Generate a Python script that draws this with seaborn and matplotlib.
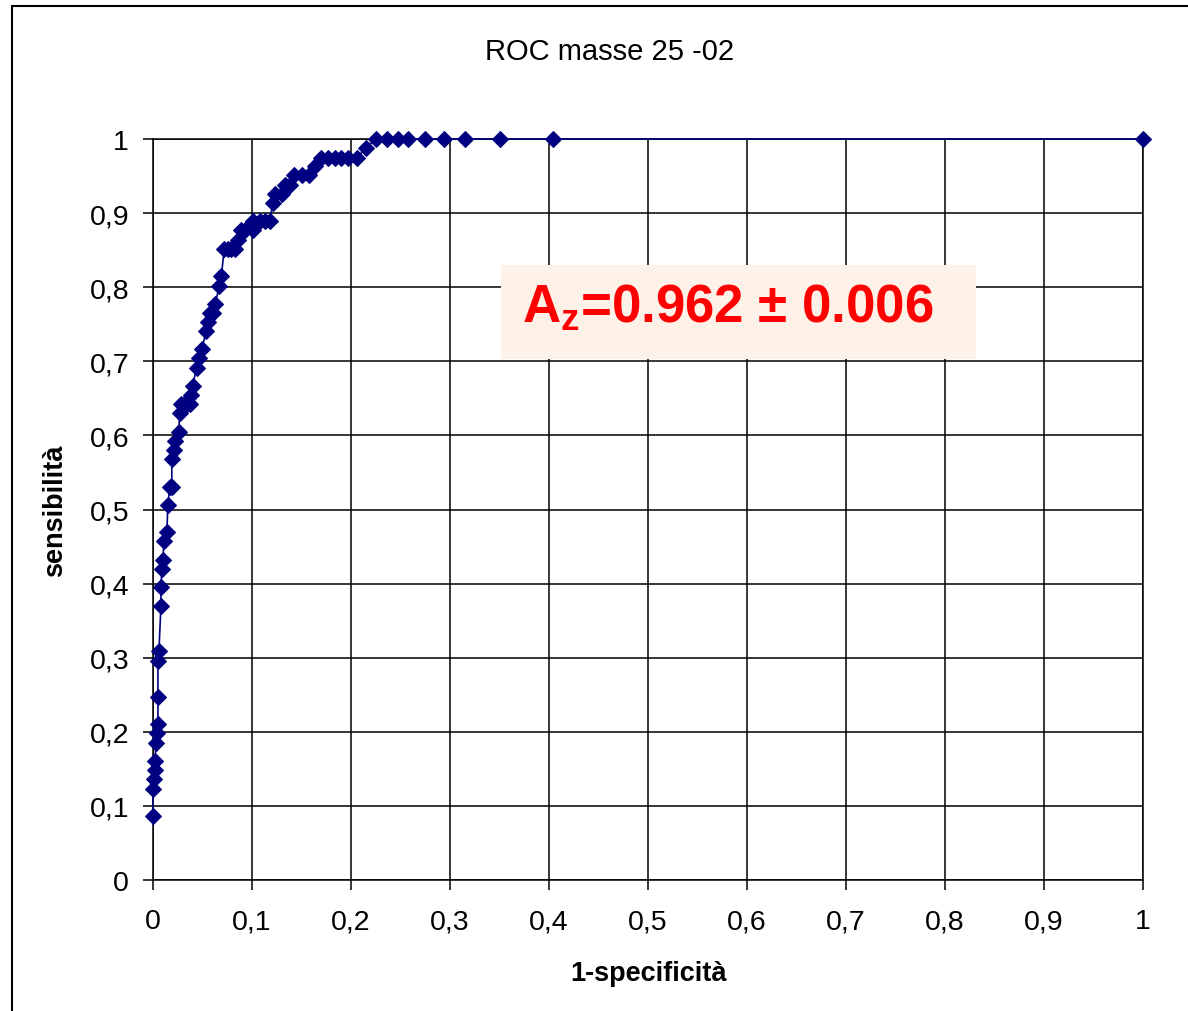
import seaborn as sns
import pandas as pd
import matplotlib.pyplot as plt
import matplotlib
from matplotlib.lines import Line2D
from matplotlib.patches import Rectangle
import numpy as np

# ROC points
fpr = [0.000, 0.000, 0.001, 0.002, 0.002, 0.003, 0.004, 0.005, 0.005, 0.005,
       0.006, 0.008, 0.008, 0.009, 0.010, 0.011, 0.014, 0.015, 0.017, 0.019,
       0.019, 0.021, 0.022, 0.026, 0.027, 0.028, 0.031, 0.034, 0.037, 0.038,
       0.040, 0.044, 0.046, 0.049, 0.054, 0.056, 0.058, 0.061, 0.063, 0.067,
       0.069, 0.072, 0.076, 0.079, 0.083, 0.086, 0.089, 0.093, 0.101, 0.101,
       0.108, 0.113, 0.118, 0.121, 0.123, 0.130, 0.133, 0.138, 0.142, 0.150,
       0.158, 0.164, 0.170, 0.177, 0.184, 0.190, 0.197, 0.206, 0.215, 0.225,
       0.236, 0.247, 0.258, 0.275, 0.294, 0.315, 0.350, 0.404, 1.000]
tpr = [0.086, 0.123, 0.136, 0.148, 0.160, 0.185, 0.198, 0.210, 0.247, 0.296,
       0.309, 0.370, 0.395, 0.420, 0.432, 0.457, 0.469, 0.506, 0.531, 0.531,
       0.568, 0.580, 0.593, 0.605, 0.630, 0.642, 0.642, 0.642, 0.642, 0.654,
       0.667, 0.691, 0.704, 0.716, 0.741, 0.753, 0.765, 0.765, 0.778, 0.802,
       0.815, 0.852, 0.852, 0.852, 0.852, 0.864, 0.877, 0.877, 0.877, 0.889,
       0.889, 0.889, 0.889, 0.914, 0.926, 0.926, 0.938, 0.938, 0.951, 0.951,
       0.951, 0.963, 0.975, 0.975, 0.975, 0.975, 0.975, 0.975, 0.988, 1.000,
       1.000, 1.000, 1.000, 1.000, 1.000, 1.000, 1.000, 1.000, 1.000]

ticks = np.round(np.arange(0, 1.01, 0.1), 1)
tick_labels = ['0', '0,1', '0,2', '0,3', '0,4', '0,5', '0,6', '0,7', '0,8', '0,9', '1']

title = 'ROC masse 25 -02'
az_label = r'$\mathbf{A_z}$=0.962 ± 0.006'

sns.set_style('white')
plt.rcParams['font.family'] = ['Liberation Sans', 'DejaVu Sans']
plt.rcParams['mathtext.fontset'] = 'custom'
plt.rcParams['mathtext.bf'] = 'Liberation Sans:bold'
plt.rcParams['mathtext.rm'] = 'Liberation Sans'
plt.rcParams['text.color'] = 'black'
plt.rcParams['axes.labelcolor'] = 'black'
plt.rcParams['xtick.color'] = 'black'
plt.rcParams['ytick.color'] = 'black'

navy = '#000080'

fig = plt.figure(figsize=(11.88, 10.12), dpi=100)
ax = fig.add_axes([153 / 1188, 131 / 1012, 990 / 1188, 741 / 1012])

data = pd.DataFrame({'fpr': fpr, 'tpr': tpr})
sns.lineplot(x='fpr', y='tpr', data=data, ax=ax, sort=False, estimator=None,
             color=navy, linewidth=1.2, marker='D', markersize=8,
             markeredgecolor=navy, markerfacecolor=navy, clip_on=False, zorder=5)

ax.set_xlim(0, 1)
ax.set_ylim(0, 1)
ax.set_xticks(ticks)
ax.set_yticks(ticks)
ax.set_xticklabels(tick_labels)
ax.set_yticklabels(tick_labels)
ax.tick_params(axis='both', which='both', direction='out', length=7.2, width=1.1,
               color='black', labelcolor='black', labelsize=20.5, left=True, bottom=True)
ax.tick_params(axis='x', pad=13)
ax.tick_params(axis='y', pad=10)
ax.grid(True, color='black', linewidth=1.1)
ax.set_axisbelow(True)
for sp in ax.spines.values():
    sp.set_color('black')
    sp.set_linewidth(1.1)

ax.set_xlabel('1-specificità', fontsize=19.5, fontweight='bold')
ax.set_ylabel('sensibilità', fontsize=19.5, fontweight='bold')
ax.xaxis.set_label_coords(0.5, -0.1255)
ax.xaxis.label.set_va('center')
ax.yaxis.set_label_coords(-0.099, 0.5)
ax.yaxis.label.set_va('center')

# annotation box
ax.add_patch(Rectangle((0.3515, 0.703), 0.4795, 0.127, facecolor='#FDF1E8',
                       edgecolor='none', zorder=3))
ax.text(0.3727, 0.753, az_label, color='#FF0000', fontsize=38,
        fontweight='bold', va='baseline', ha='left', zorder=4)

fig.text(610 / 1188, 1 - 52 / 1012, title, ha='center', va='center', fontsize=21)

# outer chart frame (left and top edges)
fig.add_artist(Line2D([11.5 / 1188, 11.5 / 1188], [0, 1 - 7 / 1012],
                      color='black', linewidth=1.5, transform=fig.transFigure))
fig.add_artist(Line2D([11.5 / 1188, 1], [1 - 7 / 1012, 1 - 7 / 1012],
                      color='black', linewidth=1.5, transform=fig.transFigure))

plt.savefig('out.png', dpi=100)
